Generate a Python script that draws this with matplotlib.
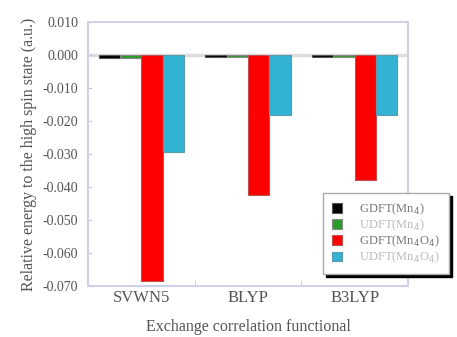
import matplotlib
matplotlib.use("Agg")
import matplotlib.pyplot as plt
import numpy as np

categories = ["SVWN5", "BLYP", "B3LYP"]
gdft_mn4 = [-0.0008, -0.0007, -0.0006]
udft_mn4 = [-0.0008, -0.0007, -0.0006]
gdft_mn4o4 = [-0.0685, -0.0425, -0.0378]
udft_mn4o4 = [-0.0295, -0.0183, -0.0182]
series_labels = [r"GDFT(Mn$_4$)", r"UDFT(Mn$_4$)", r"GDFT(Mn$_4$O$_4$)", r"UDFT(Mn$_4$O$_4$)"]
yticks = [0.010, 0.000, -0.010, -0.020, -0.030, -0.040, -0.050, -0.060, -0.070]

colors = ["#000000", "#2a9d2a", "#ff0000", "#33b3d3"]
edge = ["#555555", "#888888", "#c05050", "#5a9aaa"]
plt.rcParams['font.family'] = ['Liberation Serif', 'DejaVu Serif']
txt = "#555555"

fig = plt.figure(figsize=(4.57, 3.37), dpi=100)
ax = fig.add_axes([88/457, 1-286/337, (408-88)/457, (286-22)/337])

x = np.arange(len(categories))
w = 0.2
all_series = [gdft_mn4, udft_mn4, gdft_mn4o4, udft_mn4o4]
offs = [-0.3, -0.1, 0.1, 0.3]
handles = []
for s, o, c, e, lab in zip(all_series, offs, colors, edge, series_labels):
    b = ax.bar(x + o, s, w, color=c, edgecolor=e, linewidth=0.8, label=lab, zorder=3)
    handles.append(b)

ax.axhline(0, color="#dddddd", lw=2.5, zorder=1)
ax.set_xlim(-0.5, 2.5)
ax.set_ylim(-0.070, 0.010)
ax.set_yticks(yticks)
ax.set_yticklabels([f"{v:.3f}" for v in yticks], fontsize=10, color=txt)
ax.set_xticks(x)
ax.set_xticklabels(categories, fontsize=12, color=txt)
ax.set_xticks([0.5, 1.5, 2.5], minor=True)
ax.tick_params(axis='x', which='major', length=0, pad=3)
ax.tick_params(axis='x', which='minor', length=4, direction='in', color="#c8c8e0")
ax.tick_params(axis='y', length=3, direction='in', color="#c8c8e0", pad=7)
for sp in ax.spines.values():
    sp.set_color("#d0d0e8")
    sp.set_linewidth(1.5)

ax.set_ylabel("Relative energy to the high spin state (a.u.)", fontsize=11.5, color=txt, labelpad=4)
ax.set_xlabel("Exchange correlation functional", fontsize=11.5, color=txt, labelpad=9)

leg = fig.legend(handles=handles, labels=series_labels, loc="upper left",
                 bbox_to_anchor=(323/457, 1-193/337), fontsize=9, frameon=True,
                 fancybox=False, shadow={'color': 'black', 'alpha': 1.0, 'ox': 2, 'oy': -2},
                 handlelength=0.8, handleheight=0.8, borderpad=0.7, labelspacing=0.05,
                 handletextpad=1.4, borderaxespad=0)
leg.get_frame().set_edgecolor("#aaaaaa")
leg.get_frame().set_linewidth(1.0)
for t, c in zip(leg.get_texts(), ["#777777", "#bbbbbb", "#777777", "#bbbbbb"]):
    t.set_color(c)

fig.savefig("out.png", dpi=100)
